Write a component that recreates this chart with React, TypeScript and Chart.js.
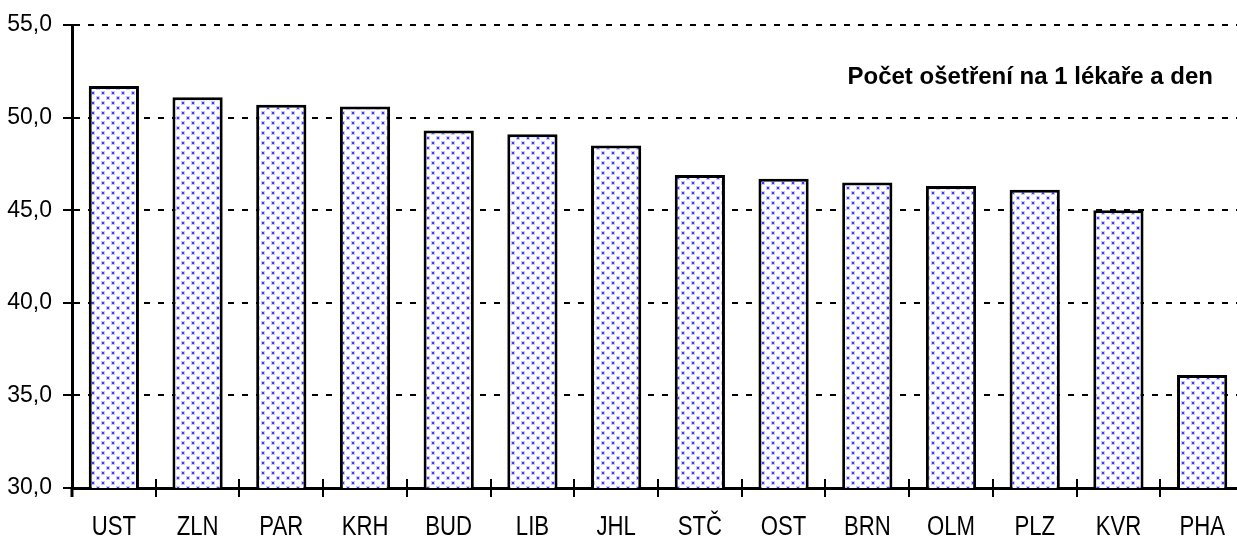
import React, { useEffect, useRef } from "react";
import { Chart, registerables } from "chart.js";

Chart.register(...registerables);

const categories = ["UST", "ZLN", "PAR", "KRH", "BUD", "LIB", "JHL", "STČ", "OST", "BRN", "OLM", "PLZ", "KVR", "PHA"];
const values = [51.7, 51.1, 50.7, 50.6, 49.3, 49.1, 48.5, 46.9, 46.7, 46.5, 46.3, 46.1, 45.0, 36.1];
const yMin = 30;
const yMax = 55;
const yStep = 5;
const chartTitle = "Počet ošetření na 1 lékaře a den";

function makePattern(): CanvasPattern | string {
  const c = document.createElement("canvas");
  c.width = 10;
  c.height = 10;
  const g = c.getContext("2d");
  if (!g) return "#ccccff";
  g.fillStyle = "#ffffff";
  g.fillRect(0, 0, 10, 10);
  const dots = [
    [2, 2],
    [7, 7],
  ];
  for (const [x, y] of dots) {
    g.fillStyle = "#c8c8ff";
    g.fillRect(x - 1, y - 1, 4, 4);
    g.fillStyle = "#3c3cff";
    g.fillRect(x, y, 2, 2);
  }
  return g.createPattern(c, "repeat") || "#ccccff";
}

const xTicksPlugin = {
  id: "xTicksCross",
  afterDraw(chart: any) {
    const { ctx, chartArea } = chart;
    const xScale = chart.scales.x;
    const n = categories.length;
    const w = (chartArea.right - chartArea.left) / n;
    ctx.save();
    ctx.strokeStyle = "#000";
    ctx.lineWidth = 2;
    ctx.beginPath();
    for (let i = 1; i < n; i++) {
      const x = Math.round(chartArea.left + i * w);
      ctx.moveTo(x, chartArea.bottom - 9);
      ctx.lineTo(x, chartArea.bottom + 9);
    }
    ctx.stroke();
    ctx.lineWidth = 3;
    ctx.beginPath();
    ctx.moveTo(chartArea.left, chartArea.bottom);
    ctx.lineTo(chartArea.left, chartArea.bottom + 9);
    ctx.stroke();
    // category labels (condensed)
    ctx.fillStyle = "#000";
    ctx.font = "27px 'Liberation Sans', Arial, sans-serif";
    ctx.textAlign = "center";
    ctx.textBaseline = "alphabetic";
    categories.forEach((lab, i) => {
      const x = xScale.getPixelForValue(i);
      ctx.save();
      ctx.translate(x, 535);
      ctx.scale(0.82, 1);
      ctx.fillText(lab, 0, 0);
      ctx.restore();
    });
    // title text
    ctx.font = "bold 24px 'Liberation Sans', Arial, sans-serif";
    ctx.textAlign = "right";
    ctx.fillText(chartTitle, 1213, 84);
    ctx.restore();
  },
};

export default function App() {
  const ref = useRef<HTMLCanvasElement>(null);
  useEffect(() => {
    if (!ref.current) return;
    const pattern = makePattern();
    const chart = new Chart(ref.current, {
      type: "bar",
      data: {
        labels: categories,
        datasets: [
          {
            data: values,
            backgroundColor: pattern as any,
            borderColor: "#000",
            borderWidth: 3,
            borderSkipped: false,
            barPercentage: 0.6,
            categoryPercentage: 1,
          },
        ],
      },
      options: {
        responsive: false,
        animation: false,
        layout: { padding: { top: 25, right: 0, left: 0, bottom: 0 } },
        plugins: {
          legend: { display: false },
          title: { display: false },
          tooltip: { enabled: false },
        },
        scales: {
          x: {
            offset: true,
            grid: { display: false, drawTicks: false },
            border: { display: true, color: "#000", width: 3 },
            ticks: { display: false },
            afterFit(scale: any) {
              scale.height = 48;
            },
          },
          y: {
            min: yMin,
            max: yMax,
            grid: {
              color: "#000",
              lineWidth: 2,
              tickLength: 9,
              tickColor: "#000",
              tickWidth: 2,
            },
            border: { display: true, color: "#000", width: 3, dash: [6, 8] },
            ticks: {
              stepSize: yStep,
              color: "#000",
              padding: 11,
              font: { family: "'Liberation Sans', Arial, sans-serif", size: 23 },
              callback: (v: any) => Number(v).toFixed(1).replace(".", ","),
            },
            afterFit(scale: any) {
              scale.width = 72;
            },
          },
        },
      },
      plugins: [xTicksPlugin],
    });
    return () => chart.destroy();
  }, []);
  return (
    <div style={{ position: "fixed", left: 0, top: 0, width: 1237, height: 536, background: "#fff", overflow: "hidden" }}>
      <canvas ref={ref} width={1244} height={536} style={{ display: "block" }} />
    </div>
  );
}
